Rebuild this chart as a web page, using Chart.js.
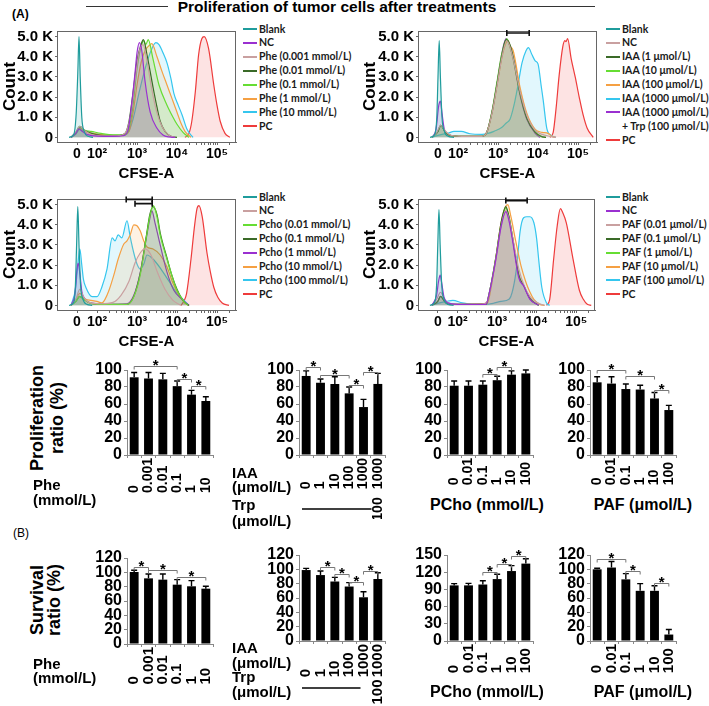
<!DOCTYPE html>
<html>
<head>
<meta charset="utf-8">
<script src="https://cdn.jsdelivr.net/npm/chart.js@4.4.1/dist/chart.umd.min.js"></script>
<style>
  body { margin: 0; background: #fff; font-family: 'Liberation Sans', Arial, sans-serif; }
  #page { position: relative; width: 709px; height: 706px; overflow: hidden; }
  #page canvas, .txt, .rule { position: absolute; }
  .txt { white-space: nowrap; color: #000; }
  .rule { background: #333; height: 1px; }
</style>
</head>
<body>
<div id="page"></div>
<script>
// ---------- flow histograms: x in display decades (1.5 = "0", 2 = 10^2 ...), y in K events ----------
const cfseTickPos = [1.5, 2, 3, 4, 5];
const cfseTickText = ['0', '10²', '10³', '10⁴', '10⁵'];
const countTicks = [0, 1, 2, 3, 4, 5];

const teal = '#1f9c9c', purple = '#9a30d0', rosy = '#c9a0a0', dkgreen = '#3a6a28',
      lime = '#66dd33', orange = '#f5a043', sky = '#35c6ee', red = '#ee3b3b';

// Phe panel
const pheLabels = ['Blank', 'NC', 'Phe (0.001 mmol/L)', 'Phe (0.01 mmol/L)', 'Phe (0.1 mmol/L)', 'Phe (1 mmol/L)', 'Phe (10 mmol/L)', 'PC'];
const pheColors = [teal, purple, rosy, dkgreen, lime, orange, sky, red];
const pheBlank = [[1.3,0],[1.42,0.15],[1.48,1.2],[1.52,3.2],[1.55,5.0],[1.58,3.0],[1.62,1.0],[1.68,0.3],[1.78,0.05],[1.9,0]];
const pheNC = [[1.35,0],[1.47,0.2],[1.55,0.42],[1.63,0.3],[1.75,0.15],[2.0,0.06],[2.4,0.05],[2.65,0.08],[2.78,0.4],[2.87,1.7],[2.95,3.2],[3.0,4.2],[3.06,4.7],[3.12,4.3],[3.2,2.8],[3.33,1.25],[3.5,0.45],[3.65,0.12],[3.8,0.02],[3.95,0]];
const phe0001 = [[1.35,0],[1.47,0.25],[1.57,0.55],[1.68,0.35],[1.85,0.15],[2.1,0.08],[2.5,0.08],[2.7,0.2],[2.85,1.2],[2.95,2.8],[3.05,4.2],[3.15,4.6],[3.25,3.8],[3.35,2.6],[3.5,1.2],[3.65,0.45],[3.8,0.1],[3.95,0]];
const phe001 = [[1.35,0],[1.47,0.25],[1.57,0.55],[1.68,0.35],[1.85,0.2],[2.1,0.1],[2.5,0.08],[2.7,0.2],[2.8,0.8],[2.9,2.2],[3.0,3.8],[3.1,4.6],[3.16,4.85],[3.25,4.1],[3.4,2.5],[3.5,1.5],[3.58,0.8],[3.7,0.3],[3.85,0.05],[4.0,0]];
const phe01 = [[1.35,0],[1.47,0.2],[1.57,0.5],[1.7,0.35],[1.85,0.3],[2.1,0.2],[2.4,0.12],[2.65,0.12],[2.78,0.3],[2.9,1.6],[3.0,3.4],[3.1,4.5],[3.17,4.8],[3.22,4.6],[3.28,4.85],[3.4,3.9],[3.55,2.6],[3.75,1.6],[3.9,1.0],[4.0,0.65],[4.15,0.25],[4.3,0]];
const phe1 = [[1.35,0],[1.47,0.2],[1.57,0.45],[1.7,0.3],[1.9,0.2],[2.2,0.12],[2.6,0.1],[2.8,0.3],[2.9,1.2],[3.0,2.6],[3.1,3.7],[3.2,4.3],[3.3,4.55],[3.37,4.65],[3.5,4.0],[3.62,3.3],[3.75,2.6],[3.88,1.9],[4.0,1.25],[4.1,0.7],[4.2,0.3],[4.35,0]];
const phe10 = [[1.35,0],[1.47,0.15],[1.57,0.4],[1.7,0.3],[1.9,0.2],[2.2,0.12],[2.55,0.1],[2.7,0.12],[2.78,0.25],[2.9,0.9],[3.06,2.3],[3.23,3.6],[3.35,4.3],[3.47,4.7],[3.55,4.6],[3.65,4.2],[3.75,3.7],[3.85,2.9],[3.92,2.2],[4.03,1.6],[4.13,1.1],[4.25,0.4],[4.4,0]];
const phePC = [[4.2,0],[4.3,0.2],[4.37,0.8],[4.46,2.3],[4.54,4.1],[4.62,4.9],[4.68,5.0],[4.79,4.4],[4.92,2.6],[5.0,1.6],[5.08,0.8],[5.2,0.2],[5.32,0]];

// IAA panel
const iaaLabels = ['Blank', 'NC', 'IAA (1 μmol/L)', 'IAA (10 μmol/L)', 'IAA (100 μmol/L)', 'IAA (1000 μmol/L)', 'IAA (1000 μmol/L) + Trp (100 μmol/L)', 'PC'];
const iaaColors = [teal, rosy, dkgreen, lime, orange, sky, purple, red];
const iaaBlank = [[1.3,0],[1.42,0.15],[1.47,1.0],[1.5,3.0],[1.53,4.8],[1.56,3.0],[1.6,1.0],[1.66,0.3],[1.76,0.05],[1.9,0]];
const iaaNC = [[1.35,0],[1.47,0.25],[1.57,0.6],[1.67,0.35],[1.8,0.12],[2.1,0.05],[2.6,0.05],[2.72,0.25],[2.85,1.2],[2.97,2.5],[3.1,4.0],[3.22,4.8],[3.38,3.9],[3.55,2.3],[3.72,1.1],[3.93,0.35],[4.1,0.15],[4.3,0.05],[4.45,0]];
const iaa1 = [[1.35,0],[1.5,0.3],[1.57,0.6],[1.67,0.3],[1.8,0.1],[2.1,0.05],[2.6,0.05],[2.72,0.25],[2.85,1.25],[2.97,2.6],[3.1,4.1],[3.2,4.85],[3.3,4.6],[3.38,4.0],[3.55,2.2],[3.72,0.95],[3.93,0.25],[4.08,0.05],[4.2,0]];
const iaa10 = [[1.35,0],[1.5,0.3],[1.57,0.6],[1.67,0.3],[1.8,0.1],[2.1,0.05],[2.6,0.05],[2.72,0.25],[2.85,1.3],[2.97,2.7],[3.1,4.2],[3.22,4.9],[3.3,4.5],[3.38,3.9],[3.55,2.2],[3.72,1.0],[3.93,0.3],[4.08,0.05],[4.2,0]];
const iaa100 = [[1.35,0],[1.5,0.3],[1.57,0.6],[1.67,0.3],[1.8,0.1],[2.1,0.05],[2.6,0.05],[2.72,0.25],[2.85,1.2],[2.97,2.5],[3.1,4.0],[3.2,4.7],[3.25,4.8],[3.3,4.55],[3.38,4.3],[3.55,2.5],[3.72,1.2],[3.93,0.4],[4.1,0.25],[4.25,0.2],[4.35,0.05],[4.45,0]];
const iaa1000 = [[1.35,0],[1.5,0.1],[1.6,0.15],[1.75,0.2],[1.9,0.3],[2.08,0.3],[2.3,0.18],[2.6,0.15],[2.75,0.2],[2.9,0.3],[3.1,0.5],[3.2,0.7],[3.3,0.9],[3.4,1.6],[3.5,2.6],[3.6,3.7],[3.7,4.3],[3.76,4.45],[3.85,4.1],[3.93,3.8],[4.0,3.65],[4.08,2.55],[4.13,1.85],[4.22,0.45],[4.33,0.1],[4.45,0]];
const iaaTrp = [[1.35,0],[1.45,0.4],[1.52,1.6],[1.56,1.8],[1.6,1.2],[1.66,0.4],[1.8,0.1],[2.1,0.05],[2.6,0.05],[2.72,0.25],[2.85,1.25],[2.97,2.6],[3.1,4.2],[3.2,4.9],[3.3,4.5],[3.38,3.9],[3.55,2.1],[3.72,0.9],[3.93,0.2],[4.05,0]];
const iaaPC = [[4.3,0],[4.38,0.25],[4.45,1.4],[4.53,3.1],[4.62,4.5],[4.67,4.8],[4.7,4.75],[4.74,4.9],[4.83,3.9],[4.93,3.0],[5.03,2.0],[5.13,1.1],[5.23,0.45],[5.38,0]];

// PCho panel
const pchoLabels = ['Blank', 'NC', 'Pcho (0.01 mmol/L)', 'Pcho (0.1 mmol/L)', 'Pcho (1 mmol/L)', 'Pcho (10 mmol/L)', 'Pcho (100 mmol/L)', 'PC'];
const pchoColors = [teal, rosy, lime, dkgreen, purple, orange, sky, red];
const pchoBlank = [[1.3,0],[1.42,0.15],[1.46,1.0],[1.49,3.0],[1.52,4.9],[1.55,3.0],[1.59,1.0],[1.65,0.3],[1.75,0.05],[1.88,0]];
const pchoNC = [[1.35,0],[1.47,0.3],[1.57,0.8],[1.67,0.4],[1.8,0.15],[2.1,0.08],[2.4,0.15],[2.6,0.5],[2.8,1.2],[2.95,2.1],[3.08,2.6],[3.2,2.8],[3.35,2.5],[3.5,1.7],[3.7,0.8],[3.9,0.25],[4.1,0]];
const pcho001 = [[1.35,0],[1.47,0.2],[1.57,0.45],[1.67,0.3],[1.85,0.1],[2.2,0.05],[2.75,0.05],[2.92,0.43],[3.08,1.5],[3.23,3.35],[3.33,4.5],[3.41,4.95],[3.5,4.4],[3.58,3.5],[3.75,2.3],[3.87,1.5],[4.0,0.75],[4.17,0.2],[4.28,0]];
const pcho01 = [[1.35,0],[1.47,0.2],[1.57,0.45],[1.67,0.3],[1.85,0.1],[2.2,0.05],[2.75,0.05],[2.92,0.45],[3.08,1.6],[3.23,3.4],[3.32,4.5],[3.4,4.9],[3.5,4.5],[3.58,3.6],[3.75,2.35],[3.87,1.5],[4.0,0.8],[4.17,0.2],[4.3,0]];
const pcho1 = [[1.35,0],[1.45,0.6],[1.5,1.8],[1.53,2.1],[1.57,1.6],[1.62,0.7],[1.7,0.3],[1.85,0.12],[2.2,0.05],[2.75,0.08],[2.92,0.5],[3.08,1.6],[3.23,3.3],[3.32,4.3],[3.37,4.7],[3.45,4.1],[3.58,3.0],[3.75,1.65],[3.92,0.75],[4.13,0.3],[4.3,0]];
const pcho10 = [[1.35,0],[1.47,0.3],[1.57,0.6],[1.65,0.45],[1.72,0.3],[1.85,0.25],[2.0,0.2],[2.12,0.12],[2.2,0.3],[2.3,0.75],[2.42,1.5],[2.53,2.3],[2.67,3.05],[2.75,3.2],[2.83,3.5],[2.92,4.0],[3.0,3.95],[3.08,3.7],[3.17,3.2],[3.25,2.9],[3.4,2.8],[3.58,2.5],[3.75,1.9],[3.9,1.1],[4.05,0.5],[4.2,0.1],[4.3,0]];
const pcho100 = [[1.35,0],[1.46,0.8],[1.52,2.0],[1.57,2.8],[1.62,2.0],[1.66,1.3],[1.72,0.9],[1.88,0.43],[2.0,0.43],[2.12,0.9],[2.25,1.8],[2.38,3.35],[2.45,3.2],[2.53,3.5],[2.62,3.35],[2.75,4.2],[2.83,3.4],[2.92,2.6],[3.0,2.05],[3.08,1.8],[3.17,2.05],[3.25,2.5],[3.4,2.3],[3.6,1.8],[3.8,1.2],[4.0,0.6],[4.15,0.3],[4.3,0]];
const pchoPC = [[4.1,0],[4.17,0.2],[4.24,0.6],[4.35,2.3],[4.43,3.8],[4.5,4.8],[4.55,4.95],[4.63,4.4],[4.75,2.6],[4.83,1.7],[4.92,0.9],[5.02,0.4],[5.13,0.12],[5.3,0]];

// PAF panel
const pafLabels = ['Blank', 'NC', 'PAF (0.01 μmol/L)', 'PAF (0.1 μmol/L)', 'PAF (1 μmol/L)', 'PAF (10 μmol/L)', 'PAF (100 μmol/L)', 'PC'];
const pafColors = [teal, purple, rosy, dkgreen, lime, orange, sky, red];
const pafBlank = [[1.3,0],[1.42,0.15],[1.47,1.0],[1.5,3.0],[1.53,4.75],[1.56,3.0],[1.6,1.0],[1.66,0.3],[1.76,0.05],[1.9,0]];
const pafNC = [[1.35,0],[1.47,0.5],[1.52,1.2],[1.56,1.5],[1.6,1.1],[1.66,0.4],[1.8,0.1],[2.1,0.05],[2.72,0.05],[2.8,0.6],[2.97,2.3],[3.1,3.9],[3.22,4.65],[3.3,4.2],[3.38,3.35],[3.55,1.35],[3.67,0.97],[3.83,0.3],[4.05,0]];
const paf001 = [[1.35,0],[1.47,0.3],[1.57,0.65],[1.67,0.3],[1.8,0.1],[2.1,0.05],[2.6,0.05],[2.75,0.2],[2.85,1.0],[2.97,2.3],[3.1,3.9],[3.22,4.7],[3.3,4.3],[3.4,3.3],[3.55,1.8],[3.7,0.9],[3.85,0.4],[4.05,0.1],[4.2,0]];
const paf01 = [[1.35,0],[1.5,0.2],[1.57,0.45],[1.67,0.2],[1.8,0.05],[2.72,0.05],[2.8,0.6],[2.97,2.4],[3.1,4.1],[3.22,4.9],[3.3,4.4],[3.38,3.5],[3.55,1.5],[3.67,1.0],[3.83,0.35],[4.05,0]];
const paf1 = [[1.35,0],[1.5,0.2],[1.57,0.45],[1.67,0.2],[1.8,0.05],[2.72,0.05],[2.8,0.6],[2.97,2.4],[3.1,4.0],[3.22,4.85],[3.3,4.4],[3.38,3.5],[3.55,1.5],[3.67,1.0],[3.83,0.35],[4.05,0]];
const paf10 = [[1.35,0],[1.5,0.2],[1.57,0.45],[1.67,0.2],[1.8,0.05],[2.75,0.1],[2.85,0.9],[2.97,2.4],[3.1,4.1],[3.2,4.85],[3.27,5.0],[3.35,4.4],[3.47,3.2],[3.6,2.0],[3.72,1.2],[3.82,0.7],[3.93,0.3],[4.08,0.05],[4.2,0]];
const paf100 = [[1.35,0],[1.5,0.1],[1.6,0.15],[1.72,0.2],[1.88,0.25],[2.12,0.12],[2.38,0.05],[2.7,0.05],[2.9,0.1],[3.1,0.2],[3.3,0.3],[3.4,0.8],[3.5,2.0],[3.58,3.65],[3.67,4.35],[3.75,4.4],[3.83,4.4],[3.93,4.1],[4.0,3.3],[4.05,2.3],[4.13,0.9],[4.25,0.12],[4.33,0]];
const pafPC = [[4.25,0],[4.33,0.3],[4.43,2.3],[4.52,3.95],[4.6,4.8],[4.66,4.6],[4.75,4.1],[4.92,2.3],[5.08,0.75],[5.18,0.3],[5.28,0.05],[5.38,0]];

// range markers above histograms [from, to, height in K]
const iaaRange = [[3.22, 3.78, 5.18]];
const pchoRange = [[2.73, 3.38, 5.26], [2.95, 3.38, 5.05]];
const pafRange = [[3.22, 3.76, 5.2]];

// ---------- bar charts ----------
const pheDoses = ['0', '0.001', '0.01', '0.1', '1', '10'];
const iaaDoses = ['0', '1', '10', '100', '1000', '1000'];
const trpDoses = ['', '', '', '', '', '100'];
const pchoDoses = ['0', '0.01', '0.1', '1', '10', '100'];
const pafDoses = ['0', '0.01', '0.1', '1', '10', '100'];

const pheProlif = [91.4, 90, 89, 81, 71, 63.5];
const pheProlifSd = [5.6, 7, 7, 6, 5, 5];
const pheProlifSig = [[0, 3, 105], [3, 4, 90], [4, 5, 81]];
const iaaProlif = [93, 85, 83.5, 72.5, 56.4, 83.6];
const iaaProlifSd = [6, 4.4, 8.5, 7.5, 9, 12.4];
const iaaProlifSig = [[0, 1, 104], [1, 3, 94], [3, 4, 82], [4, 5, 98]];
const pchoProlif = [81.5, 81.5, 82.7, 88, 94.5, 96];
const pchoProlifSd = [5.5, 5.5, 4.3, 4.6, 4.5, 4];
const pchoProlifSig = [[2, 3, 95], [3, 4, 103]];
const pafProlif = [85.5, 84, 77.6, 77, 66.5, 52.9];
const pafProlifSd = [6.5, 8, 5.9, 5, 7, 5.5];
const pafProlifSig = [[0, 2, 100], [2, 4, 93], [4, 5, 77]];

const pheSurv = [100.5, 91.6, 89.8, 82.8, 80.5, 77.2];
const pheSurvSd = [2.5, 6.1, 7.9, 7, 7.9, 3.3];
const pheSurvSig = [[0, 1, 108], [1, 3, 103], [3, 5, 94]];
const iaaSurv = [99, 92, 83, 76, 61, 86.5];
const iaaSurvSd = [2.4, 5.7, 5.8, 5.4, 7.8, 8.8];
const iaaSurvSig = [[1, 2, 103], [2, 3, 93], [3, 4, 83], [4, 5, 98]];
const pchoSurv = [97, 97, 98.5, 108, 122, 135];
const pchoSurvSd = [3, 3.5, 6.5, 8.5, 9.5, 8.5];
const pchoSurvSig = [[2, 3, 120], [3, 4, 135], [4, 5, 149]];
const pafSurv = [100, 102.5, 86, 70, 70, 9];
const pafSurvSd = [1.5, 8.5, 8, 10, 7, 7];
const pafSurvSig = [[0, 2, 115], [2, 3, 98], [4, 5, 81]];

Chart.defaults.font.family = "'Liberation Sans', Arial, sans-serif";
const page = document.getElementById('page');

function place(left, top, w, h) {
  const c = document.createElement('canvas');
  c.width = w; c.height = h;
  c.style.left = left + 'px'; c.style.top = top + 'px';
  page.appendChild(c);
  return c;
}

function txt(html, css) {
  const d = document.createElement('div');
  d.className = 'txt';
  d.innerHTML = html;
  Object.assign(d.style, css);
  page.appendChild(d);
  return d;
}

// box round the histogram + range markers
const frame = {
  id: 'frame',
  afterDatasetsDraw(chart, args, o) {
    const { ctx, chartArea: a } = chart;
    const x = chart.scales.x, y = chart.scales.y;
    ctx.save();
    ctx.strokeStyle = '#666'; ctx.lineWidth = 1;
    ctx.strokeRect(a.left + 0.5, a.top + 0.5, a.right - a.left - 1, a.bottom - a.top);
    ctx.strokeStyle = '#111'; ctx.lineWidth = 1.6;
    (o.ranges || []).forEach(([x1, x2, v]) => {
      const p1 = x.getPixelForValue(x1), p2 = x.getPixelForValue(x2), py = y.getPixelForValue(v);
      ctx.beginPath();
      ctx.moveTo(p1, py - 3); ctx.lineTo(p1, py + 3);
      ctx.moveTo(p2, py - 3); ctx.lineTo(p2, py + 3);
      ctx.moveTo(p1, py); ctx.lineTo(p2, py);
      ctx.stroke();
    });
    ctx.restore();
  }
};

const minorTicks = [];
for (let d = 2; d < 5.5; d++) {
  for (let k = 2; k <= 9; k++) {
    const p = d + Math.log10(k);
    if (p < 5.47) minorTicks.push(p);
  }
}

function histogram(left, top, axisW, width, labels, colors, curves, ranges) {
  const cv = place(left, top, width, 165);
  new Chart(cv, {
    type: 'line',
    data: {
      datasets: curves.map((pts, i) => ({
        label: labels[i],
        data: pts.map(p => ({ x: p[0], y: p[1] })),
        borderColor: colors[i],
        backgroundColor: colors[i] + '24',
        borderWidth: 1.2,
        fill: 'origin',
        pointRadius: 0,
        cubicInterpolationMode: 'monotone'
      }))
    },
    options: {
      responsive: false,
      animation: false,
      layout: { padding: { top: 3, right: 1 } },
      plugins: { legend: { display: false }, tooltip: { enabled: false }, frame: { ranges } },
      scales: {
        x: {
          type: 'linear', min: 1, max: 5.475,
          afterBuildTicks: s => { s.ticks = cfseTickPos.concat(minorTicks).sort((a, b) => a - b).map(v => ({ value: v })); },
          ticks: {
            autoSkip: false, maxRotation: 0, color: '#000', padding: 1,
            font: { size: 14, weight: 'bold' },
            callback: v => { const i = cfseTickPos.indexOf(v); return i < 0 ? '' : cfseTickText[i]; }
          },
          grid: { drawOnChartArea: false, tickLength: 3, color: '#666' },
          border: { color: '#666' },
          title: { display: true, text: 'CFSE-A', color: '#000', font: { size: 15, weight: 'bold' }, padding: { top: 0, bottom: 2 } },
          afterFit: s => { s.height = 43; }
        },
        y: {
          min: -0.23, max: 5.28,
          afterBuildTicks: s => { s.ticks = countTicks.map(v => ({ value: v })); },
          ticks: {
            color: '#000', padding: 2, font: { size: 15, weight: 'bold' },
            callback: v => v === 0 ? '0' : v.toFixed(1) + ' K'
          },
          grid: { drawOnChartArea: false, tickLength: 2, color: '#666' },
          border: { color: '#666' },
          title: { display: true, text: 'Count', color: '#000', font: { size: 17, weight: 'bold' }, padding: 0 },
          afterFit: s => { s.width = axisW; }
        }
      }
    },
    plugins: [frame]
  });
}

function legend(x, y0, labels, colors) {
  let row = 0;
  labels.forEach((lab, i) => {
    const parts = lab.split(' + ');
    const y = y0 + row * 13.9;
    const mark = document.createElement('div');
    mark.className = 'rule';
    Object.assign(mark.style, { left: x + 'px', top: (y - 1) + 'px', width: '14px', height: '2px', background: colors[i] });
    page.appendChild(mark);
    const font = { fontFamily: 'Lato, sans-serif', fontWeight: '700', fontSize: '10.5px', color: '#1a1a1a', lineHeight: '13px' };
    txt(parts[0], Object.assign({ left: (x + 16) + 'px', top: (y - 6.5) + 'px' }, font));
    row++;
    if (parts[1]) {
      txt('+ ' + parts[1], Object.assign({ left: (x + 16) + 'px', top: (y0 + row * 13.9 - 6.5) + 'px' }, font));
      row++;
    }
  });
}

// error whiskers, significance brackets and rotated dose labels
const barDecor = {
  id: 'barDecor',
  afterDatasetsDraw(chart, args, o) {
    const { ctx, chartArea: a } = chart;
    const y = chart.scales.y;
    const meta = chart.getDatasetMeta(0);
    const vals = chart.data.datasets[0].data;
    ctx.save();
    ctx.strokeStyle = '#000'; ctx.lineWidth = 1.4;
    o.sd.forEach((s, i) => {
      const bar = meta.data[i];
      const yt = y.getPixelForValue(vals[i] + s);
      ctx.beginPath();
      ctx.moveTo(bar.x, bar.y); ctx.lineTo(bar.x, yt);
      ctx.moveTo(bar.x - 3, yt); ctx.lineTo(bar.x + 3, yt);
      ctx.stroke();
    });
    ctx.strokeStyle = '#777'; ctx.lineWidth = 1;
    ctx.fillStyle = '#000';
    ctx.font = "bold 15px 'Liberation Sans', Arial";
    ctx.textAlign = 'center'; ctx.textBaseline = 'middle';
    o.sig.forEach(([i, j, v]) => {
      const x1 = meta.data[i].x, x2 = meta.data[j].x, py = Math.round(y.getPixelForValue(v)) + 0.5;
      ctx.beginPath();
      ctx.moveTo(x1, py + 3); ctx.lineTo(x1, py); ctx.lineTo(x2, py); ctx.lineTo(x2, py + 3);
      ctx.stroke();
      ctx.fillText('*', (x1 + x2) / 2, py - 1);
    });
    // dose labels, reading upward, bottom-aligned
    const labels = chart.data.labels;
    ctx.font = `bold ${o.labelSize}px 'Liberation Sans', Arial`;
    const maxW = Math.max(...labels.map(l => ctx.measureText(l).width));
    const base = a.bottom + 3 + maxW;
    ctx.textAlign = 'left';
    labels.forEach((l, i) => {
      ctx.save();
      ctx.translate(meta.data[i].x, base);
      ctx.rotate(-Math.PI / 2);
      ctx.fillText(l, 0, 0);
      ctx.restore();
    });
    if (o.trp) {
      const py = a.bottom + o.trp.dy;
      ctx.strokeStyle = '#000'; ctx.lineWidth = 1.5;
      ctx.beginPath();
      ctx.moveTo(a.left + 3, py); ctx.lineTo(meta.data[4].x + o.trp.end, py);
      ctx.stroke();
      ctx.textAlign = 'center';
      o.trp.text.forEach((t, i) => {
        if (!t) return;
        ctx.save();
        ctx.translate(meta.data[i].x, py + o.trp.shift);
        ctx.rotate(-Math.PI / 2);
        ctx.fillText(t, 0, 0);
        ctx.restore();
      });
    }
    ctx.restore();
  }
};

function bars(axisX, top, plotH, axisH, labels, values, sd, sig, yMax, yStep, labelSize, trp) {
  const cv = place(axisX - 45, top - 14, 45 + 86 + 8, 14 + plotH + axisH);
  new Chart(cv, {
    type: 'bar',
    data: { labels, datasets: [{ data: values, backgroundColor: '#000', barPercentage: 0.62, categoryPercentage: 1 }] },
    options: {
      responsive: false,
      animation: false,
      layout: { padding: { top: 14, right: 8 } },
      plugins: { legend: { display: false }, tooltip: { enabled: false }, barDecor: { sd, sig, labelSize, trp } },
      scales: {
        x: {
          ticks: { display: false },
          grid: { drawOnChartArea: false, tickLength: 3, color: '#888' },
          border: { color: '#888' },
          afterFit: s => { s.height = axisH; }
        },
        y: {
          min: 0, max: yMax,
          ticks: { stepSize: yStep, autoSkip: false, color: '#000', padding: 2, font: { size: 16, weight: 'bold' } },
          grid: { drawOnChartArea: false, tickLength: 3, color: '#888' },
          border: { color: '#888' },
          afterFit: s => { s.width = 45; }
        }
      }
    },
    plugins: [barDecor]
  });
}

// ---------- headings ----------
txt('Proliferation of tumor cells after treatments', { left: '337px', top: '7px', transform: 'translate(-50%,-50%)', fontWeight: 'bold', fontSize: '15.5px' });
const r1 = document.createElement('div'); r1.className = 'rule';
Object.assign(r1.style, { left: '86px', top: '6px', width: '82px' }); page.appendChild(r1);
const r2 = document.createElement('div'); r2.className = 'rule';
Object.assign(r2.style, { left: '509px', top: '6px', width: '86px' }); page.appendChild(r2);
txt('(A)', { left: '12px', top: '7px', fontSize: '12px', fontWeight: 'bold' });
txt('(B)', { left: '13px', top: '526px', fontSize: '12px' });

// ---------- histograms ----------
histogram(0, 20, 57, 237, pheLabels, pheColors, [pheBlank, pheNC, phe0001, phe001, phe01, phe1, phe10, phePC], []);
histogram(360, 20, 58, 238, iaaLabels, iaaColors, [iaaBlank, iaaNC, iaa1, iaa10, iaa100, iaa1000, iaaTrp, iaaPC], iaaRange);
histogram(0, 188, 57, 237, pchoLabels, pchoColors, [pchoBlank, pchoNC, pcho001, pcho01, pcho1, pcho10, pcho100, pchoPC], pchoRange);
histogram(360, 188, 58, 236, pafLabels, pafColors, [pafBlank, pafNC, paf001, paf01, paf1, paf10, paf100, pafPC], pafRange);
legend(243, 29, pheLabels, pheColors);
legend(606, 29, iaaLabels, iaaColors);
legend(243, 197, pchoLabels, pchoColors);
legend(606, 197, pafLabels, pafColors);

// ---------- bar charts ----------
bars(127, 370, 85, 40, pheDoses, pheProlif, pheProlifSd, pheProlifSig, 100, 20, 14, null);
bars(299, 370, 85, 64, iaaDoses, iaaProlif, iaaProlifSd, iaaProlifSig, 100, 20, 14, { text: trpDoses, dy: 54, end: 8, shift: 0 });
bars(447, 370, 85, 40, pchoDoses, pchoProlif, pchoProlifSd, pchoProlifSig, 100, 20, 14, null);
bars(590, 370, 85, 40, pafDoses, pafProlif, pafProlifSd, pafProlifSig, 100, 20, 14, null);

bars(127, 558, 86, 50, pheDoses, pheSurv, pheSurvSd, pheSurvSig, 120, 20, 15, null);
bars(299, 555, 86, 66, iaaDoses, iaaSurv, iaaSurvSd, iaaSurvSig, 120, 20, 15, { text: trpDoses, dy: 47, end: -3, shift: 4 });
bars(447, 555, 86, 50, pchoDoses, pchoSurv, pchoSurvSd, pchoSurvSig, 150, 30, 15, null);
bars(590, 555, 86, 50, pafDoses, pafSurv, pafSurvSd, pafSurvSig, 120, 20, 15, null);

// ---------- axis notes ----------
const note = { fontWeight: 'bold', fontSize: '15px' };
txt('Proliferation<br>ratio (%)', { left: '47px', top: '418px', transform: 'translate(-50%,-50%) rotate(-90deg)', textAlign: 'center', lineHeight: '20px', fontWeight: 'bold', fontSize: '18px' });
txt('Survival<br>ratio (%)', { left: '46px', top: '600px', transform: 'translate(-50%,-50%) rotate(-90deg)', textAlign: 'center', lineHeight: '17px', fontWeight: 'bold', fontSize: '18px' });
txt('Phe<br>(mmol/L)', Object.assign({ left: '33px', top: '477px', lineHeight: '15px' }, note));
txt('Phe<br>(mmol/L)', Object.assign({ left: '33px', top: '657px', lineHeight: '14px' }, note));
txt('IAA<br>(μmol/L)', Object.assign({ left: '232px', top: '466px', lineHeight: '14px' }, note));
txt('Trp<br>(μmol/L)', Object.assign({ left: '232px', top: '497px', lineHeight: '16px' }, note));
txt('IAA<br>(μmol/L)', Object.assign({ left: '232px', top: '640px', lineHeight: '15px' }, note));
txt('Trp<br>(μmol/L)', Object.assign({ left: '232px', top: '669px', lineHeight: '15px' }, note));
const unit = { fontWeight: 'bold', fontSize: '16px', transform: 'translate(-50%,-50%)' };
txt('PCho (mmol/L)', Object.assign({ left: '487px', top: '505px' }, unit));
txt('PAF (μmol/L)', Object.assign({ left: '643px', top: '505px' }, unit));
txt('PCho (mmol/L)', Object.assign({ left: '487px', top: '692px' }, unit));
txt('PAF (μmol/L)', Object.assign({ left: '643px', top: '692px' }, unit));
</script>
</body>
</html>
